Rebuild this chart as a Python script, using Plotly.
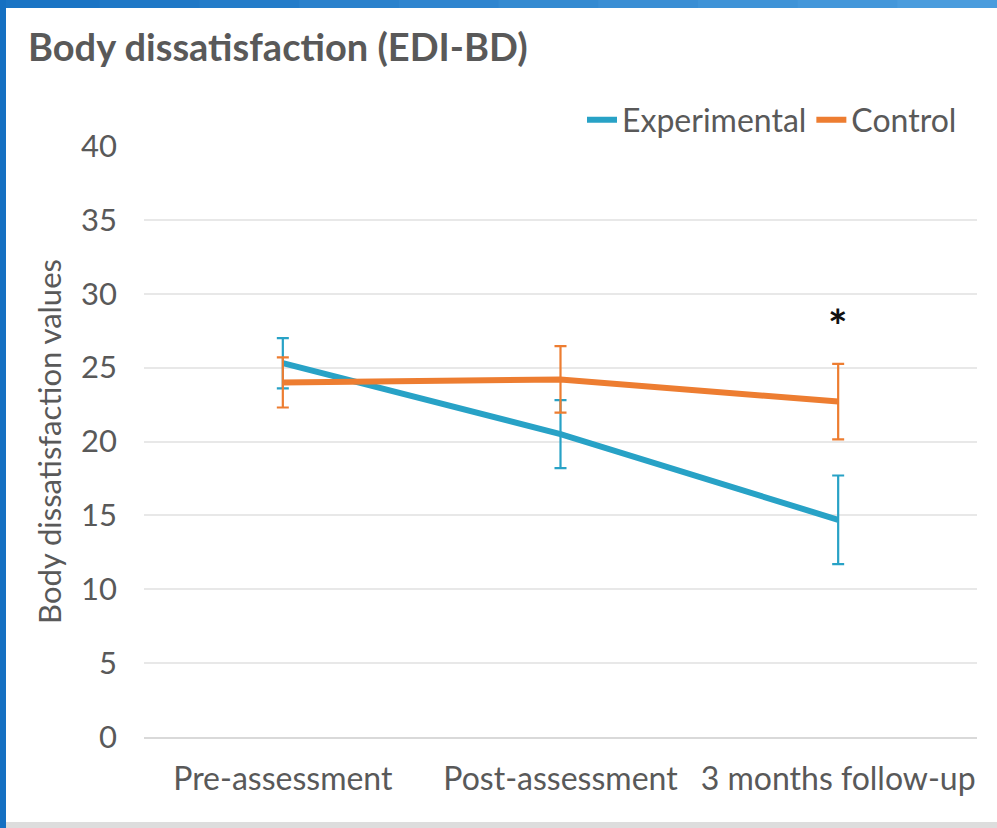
import plotly.graph_objects as go

categories = ["Pre-assessment", "Post-assessment", "3 months follow-up"]
experimental = [25.3, 20.5, 14.7]
experimental_err = [1.7, 2.3, 3.0]
control = [24.0, 24.2, 22.7]
control_err = [1.7, 2.25, 2.55]
y_ticks = [0, 5, 10, 15, 20, 25, 30, 35, 40]
significance_y = 28.4

TEXT = "#595959"
FONT = "Lato, 'Open Sans', sans-serif"
BLUE = "#28A2C6"
ORANGE = "#ED7D31"

W, H = 997, 828
L, R, T, B = 144, 20, 146, 91
PW, PH = W - L - R, H - T - B


def px(x):
    return (x - L) / PW


def py(y):
    return (H - B - y) / PH


fig = go.Figure()
fig.add_trace(go.Scatter(
    x=categories, y=experimental, name="Experimental", mode="lines",
    line=dict(color=BLUE, width=6),
    error_y=dict(type="data", array=experimental_err, visible=True,
                 color=BLUE, thickness=2.2, width=6),
))
fig.add_trace(go.Scatter(
    x=categories, y=control, name="Control", mode="lines",
    line=dict(color=ORANGE, width=6),
    error_y=dict(type="data", array=control_err, visible=True,
                 color=ORANGE, thickness=2.2, width=6),
))

fig.add_annotation(x=categories[2], y=significance_y, text="<b>*</b>",
                   showarrow=False, font=dict(size=46, color="#111111", family=FONT),
                   yanchor="middle", yshift=-8)

shapes = []
# top stripe with a light gradient
n_seg = 10
c0, c1 = (0x1A, 0x74, 0xC4), (0x4A, 0x9C, 0xDD)
for i in range(n_seg):
    t = i / (n_seg - 1)
    col = "#%02X%02X%02X" % tuple(int(a + (b - a) * t) for a, b in zip(c0, c1))
    shapes.append(dict(type="rect", xref="paper", yref="paper",
                       x0=px(W * i / n_seg), x1=px(W * (i + 1) / n_seg + 1),
                       y0=py(8), y1=py(-2), fillcolor=col, line=dict(width=0), layer="above"))
shapes += [
    dict(type="rect", xref="paper", yref="paper", x0=px(-2), x1=px(6), y0=py(H + 2), y1=py(-2),
         fillcolor="#1570C2", line=dict(width=0), layer="above"),
    dict(type="rect", xref="paper", yref="paper", x0=px(6), x1=px(W + 2), y0=py(H + 2), y1=py(822),
         fillcolor="#DDDDDD", line=dict(width=0), layer="above"),
]

fig.update_layout(
    width=W, height=H,
    margin=dict(l=L, r=R, t=T, b=B, autoexpand=False),
    paper_bgcolor="white", plot_bgcolor="white",
    font=dict(family=FONT, color=TEXT, size=32),
    title=dict(text="<b>Body dissatisfaction (EDI-BD)</b>", xref="container", yref="container",
               x=28 / W, xanchor="left", y=1 - 48 / H, yanchor="middle",
               font=dict(size=38, color=TEXT, family=FONT)),
    legend=dict(orientation="h", x=px(962), xanchor="right", y=py(120), yanchor="middle",
                font=dict(size=32, color=TEXT), bgcolor="rgba(0,0,0,0)",
                itemwidth=30, tracegroupgap=0),
    shapes=shapes,
    showlegend=True,
)
fig.update_xaxes(type="category", range=[-0.5, 2.5], showgrid=False,
                 showline=True, linecolor="#D9D9D9", linewidth=2,
                 ticks="", tickfont=dict(size=32, color=TEXT), ticklabelstandoff=13,
                 zeroline=False)
fig.update_yaxes(range=[0, 40], tickvals=y_ticks, showgrid=True, gridcolor="#E8E8E8",
                 gridwidth=1.5, zeroline=False, showline=False, ticks="",
                 tickfont=dict(size=31, color=TEXT), ticklabelstandoff=26,
                 title=dict(text="Body dissatisfaction values", standoff=10,
                            font=dict(size=31, color=TEXT)))

fig.write_html("out.html", config={"displayModeBar": False},
               post_script="document.body.style.margin='0';")
